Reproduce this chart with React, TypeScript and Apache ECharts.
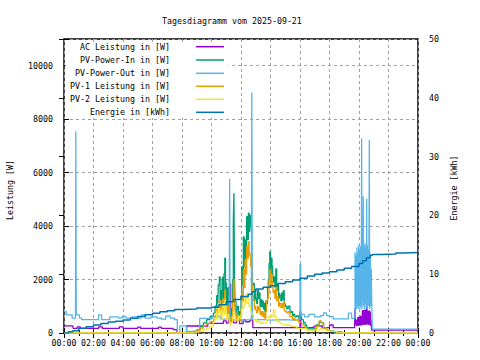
import React, { useEffect, useRef } from "react";
import * as echarts from "echarts";

const titleText = "Tagesdiagramm vom 2025-09-21";
const seriesNames = [
  "AC Leistung in [W]",
  "PV-Power-In in [W]",
  "PV-Power-Out in [W]",
  "PV-1 Leistung in [W]",
  "PV-2 Leistung in [W]",
  "Energie in [kWh]",
];
const seriesColors = ["#9400d3", "#009e73", "#56b4e9", "#e69f00", "#f0e442", "#0072b2"];
const hourTicks = [0, 2, 4, 6, 8, 10, 12, 14, 16, 18, 20, 22, 24];

// [hour, W]
const acLeistung: [number, number][] = [
  [0, 270], [0.6, 270], [0.62, 170], [0.9, 230], [1.1, 170], [2.3, 170], [2.35, 230], [2.6, 170],
  [3.7, 170], [3.75, 230], [4.0, 170], [4.9, 170], [5.0, 220], [5.2, 170], [6.3, 170], [6.4, 220],
  [6.6, 170], [7.0, 170], [7.4, 130], [7.65, 0], [8.3, 0], [8.32, 262], [9.7, 262], [9.75, 360],
  [10.6, 360], [10.8, 450], [11.0, 370], [11.15, 500], [11.25, 1830], [11.3, 450], [11.5, 380],
  [11.7, 480], [11.9, 350], [12.15, 490], [12.3, 420], [12.6, 480], [12.75, 500], [12.8, 200],
  [15.95, 200], [16.0, 800], [16.05, 200], [16.9, 200], [16.95, 260], [17.3, 280], [17.5, 200],
  [18.0, 300], [18.25, 200], [19.7, 200],
  [19.73, 920], [19.76, 300], [19.8, 480], [19.83, 250], [19.86, 500], [19.89, 280], [19.92, 600],
  [19.95, 260], [19.98, 610], [20.01, 300], [20.04, 600], [20.07, 260], [20.1, 650], [20.13, 300],
  [20.16, 620], [20.2, 280], [20.23, 860], [20.26, 320], [20.29, 850], [20.32, 300], [20.35, 870],
  [20.38, 320], [20.41, 860], [20.44, 300], [20.47, 880], [20.5, 320], [20.52, 1600], [20.55, 340],
  [20.58, 840], [20.61, 300], [20.64, 820], [20.67, 320], [20.7, 850], [20.73, 300], [20.76, 800],
  [20.79, 260], [20.82, 500], [20.85, 110], [24, 100],
];

const pvPowerIn: [number, number][] = [
  [0, 0], [8.5, 0], [8.77, 60], [9.0, 120], [9.22, 240], [9.45, 380], [9.67, 500], [9.9, 620],
  [10.12, 740], [10.24, 1000], [10.35, 1400], [10.42, 900], [10.46, 1800], [10.53, 2100],
  [10.58, 1200], [10.62, 1580], [10.67, 900], [10.72, 2000], [10.76, 2100], [10.8, 1300],
  [10.85, 2230], [10.9, 2800], [10.95, 1400], [11.0, 1900], [11.03, 1200], [11.07, 1700],
  [11.1, 1000], [11.14, 1700], [11.2, 700], [11.25, 500], [11.32, 900], [11.37, 700], [11.43, 2000],
  [11.48, 4230], [11.52, 5230], [11.56, 2000], [11.6, 1200], [11.66, 600], [11.71, 900],
  [11.76, 1000], [11.82, 700], [11.88, 800], [11.93, 600], [12.0, 1400], [12.05, 2480],
  [12.1, 1800], [12.16, 3600], [12.22, 2500], [12.27, 3480], [12.33, 2800], [12.38, 4350],
  [12.45, 3500], [12.5, 4480], [12.55, 3800], [12.6, 4400], [12.66, 3980], [12.72, 2300],
  [12.78, 1800], [12.84, 1860], [12.9, 1200], [12.95, 1500], [13.0, 1300], [13.06, 1100],
  [13.12, 1600], [13.18, 1300], [13.24, 1500], [13.29, 1000], [13.35, 1250], [13.4, 1000],
  [13.45, 1200], [13.51, 900], [13.56, 1100], [13.62, 800], [13.68, 1200], [13.74, 1100],
  [13.8, 1700], [13.85, 2000], [13.9, 2600], [13.95, 3040], [14.0, 2000], [14.05, 2800],
  [14.1, 2500], [14.15, 2300], [14.19, 1900], [14.25, 2100], [14.3, 1700], [14.36, 2400],
  [14.42, 1600], [14.48, 1800], [14.55, 1300], [14.6, 1500], [14.64, 1400], [14.7, 1200],
  [14.75, 1500], [14.8, 1250], [14.87, 1580], [14.93, 1100], [15.0, 1000], [15.1, 900],
  [15.2, 1000], [15.32, 750], [15.4, 800], [15.5, 650], [15.55, 700], [15.65, 600], [15.78, 650],
  [15.9, 560], [16.0, 620], [16.1, 500], [16.23, 400], [16.35, 300], [16.45, 200], [16.6, 150],
  [16.9, 150], [17.1, 300], [17.3, 420], [17.45, 380], [17.6, 200], [17.8, 120], [18.0, 80],
  [18.3, 30], [18.6, 0], [24, 0],
];

const pvPowerOut: [number, number][] = [
  [0, 800], [0.15, 680], [0.55, 560], [0.78, 560], [0.8, 7550], [0.83, 680], [1.05, 560],
  [1.2, 500], [2.3, 500], [2.35, 680], [2.55, 500], [3.05, 500], [3.1, 600], [3.7, 560],
  [3.95, 620], [4.2, 560], [4.6, 600], [5.0, 560], [5.25, 680], [5.5, 560], [5.9, 600],
  [6.3, 560], [6.6, 520], [6.9, 640], [7.2, 560], [7.5, 500], [7.68, 0], [7.85, 270], [8.3, 60],
  [9.2, 550], [10.1, 620], [10.6, 520], [11.0, 560], [11.2, 500], [11.23, 5760], [11.26, 500],
  [11.6, 480], [12.0, 500], [12.7, 500], [12.73, 9000], [12.77, 500], [13.5, 480], [14.0, 500],
  [15.0, 480], [15.5, 500], [16.0, 2570], [16.05, 700], [16.3, 600], [16.6, 700], [17.0, 600],
  [17.4, 650], [17.6, 750], [17.8, 650], [18.0, 610], [18.26, 525], [19.28, 740], [19.5, 550],
  [19.73, 3020], [19.76, 900], [19.8, 2900], [19.83, 900], [19.86, 3200], [19.89, 1000],
  [19.92, 3000], [19.95, 900], [19.98, 3300], [20.01, 1100], [20.04, 3100], [20.07, 900],
  [20.1, 3250], [20.13, 1000], [20.16, 3150], [20.18, 7280], [20.2, 900], [20.23, 3300],
  [20.26, 1200], [20.29, 5120], [20.31, 1000], [20.34, 3200], [20.37, 900], [20.4, 3350],
  [20.43, 1100], [20.46, 3200], [20.49, 1000], [20.52, 5020], [20.54, 900], [20.57, 3300],
  [20.6, 1100], [20.63, 3100], [20.66, 1000], [20.7, 7220], [20.72, 900], [20.75, 3000],
  [20.78, 2420], [20.8, 1000], [20.83, 2400], [20.86, 1300], [20.9, 140], [24, 120],
];

const pv1Leistung: [number, number][] = [
  [0, 0], [8.5, 0], [8.77, 40], [9.0, 90], [9.22, 180], [9.45, 280], [9.67, 350], [9.9, 420],
  [10.12, 500], [10.24, 650], [10.35, 900], [10.42, 600], [10.46, 1100], [10.53, 1250],
  [10.58, 800], [10.62, 1000], [10.67, 600], [10.72, 1200], [10.76, 1250], [10.8, 850],
  [10.85, 1300], [10.9, 1600], [10.95, 900], [11.0, 1200], [11.03, 800], [11.07, 1050],
  [11.1, 700], [11.14, 1000], [11.2, 500], [11.25, 400], [11.32, 600], [11.37, 500], [11.43, 1200],
  [11.48, 1980], [11.52, 2000], [11.56, 1100], [11.6, 800], [11.66, 450], [11.71, 600],
  [11.76, 650], [11.82, 500], [11.88, 550], [11.93, 450], [12.0, 900], [12.05, 1480], [12.1, 1200],
  [12.16, 2360], [12.22, 1700], [12.27, 2730], [12.33, 2200], [12.38, 3230], [12.45, 2800],
  [12.5, 3415], [12.55, 3000], [12.6, 2900], [12.66, 2500], [12.72, 1800], [12.78, 1400],
  [12.84, 1230], [12.9, 900], [12.95, 1000], [13.0, 850], [13.06, 750], [13.12, 1000],
  [13.18, 850], [13.24, 950], [13.29, 700], [13.35, 800], [13.4, 650], [13.45, 800], [13.51, 600],
  [13.56, 750], [13.62, 550], [13.68, 800], [13.74, 1200], [13.8, 1300], [13.85, 1500],
  [13.9, 2000], [13.95, 2360], [14.0, 1700], [14.05, 2200], [14.1, 1900], [14.15, 1750],
  [14.19, 1500], [14.25, 1600], [14.3, 1300], [14.36, 1750], [14.42, 1200], [14.48, 1350],
  [14.55, 1000], [14.6, 1150], [14.64, 1100], [14.7, 950], [14.75, 1100], [14.8, 950],
  [14.87, 1150], [14.93, 850], [15.0, 800], [15.1, 750], [15.2, 800], [15.32, 600], [15.4, 620],
  [15.5, 500], [15.55, 550], [15.65, 480], [15.78, 500], [15.9, 420], [16.0, 410], [16.1, 350],
  [16.23, 280], [16.35, 200], [16.45, 130], [16.6, 110], [16.9, 110], [17.1, 250], [17.3, 450],
  [17.45, 380], [17.6, 180], [17.8, 100], [18.0, 60], [18.3, 50], [18.8, 50], [18.85, 0], [24, 0],
];

const pv2Leistung: [number, number][] = [
  [0, 0], [8.6, 0], [9.0, 40], [9.22, 70], [9.45, 120], [9.67, 180], [9.9, 250], [10.12, 400],
  [10.24, 550], [10.35, 800], [10.42, 500], [10.46, 1090], [10.53, 800], [10.58, 700],
  [10.62, 850], [10.67, 500], [10.72, 900], [10.76, 950], [10.8, 1100], [10.85, 700],
  [10.9, 1230], [10.95, 1000], [11.0, 600], [11.03, 500], [11.07, 700], [11.14, 600], [11.2, 350],
  [11.25, 300], [11.32, 400], [11.43, 600], [11.48, 800], [11.52, 700], [11.6, 500], [11.71, 480],
  [11.82, 600], [11.93, 550], [12.0, 700], [12.05, 900], [12.16, 985], [12.22, 1200],
  [12.27, 1360], [12.33, 1100], [12.38, 1490], [12.45, 1300], [12.5, 1110], [12.55, 1000],
  [12.61, 985], [12.66, 800], [12.72, 700], [12.84, 470], [12.95, 500], [13.06, 420], [13.2, 450],
  [13.29, 360], [13.4, 400], [13.51, 360], [13.6, 380], [13.74, 500], [13.85, 600], [13.97, 680],
  [14.05, 620], [14.19, 860], [14.3, 600], [14.42, 420], [14.55, 450], [14.64, 360], [14.8, 330],
  [15.0, 300], [15.2, 280], [15.4, 250], [15.55, 230], [15.78, 170], [16.0, 170], [16.2, 150],
  [16.45, 110], [16.9, 110], [17.2, 120], [17.36, 170], [17.5, 120], [17.81, 110], [18.0, 60],
  [18.27, 50], [18.5, 0], [24, 0],
];

// [hour, kWh]
const energie: [number, number][] = [
  [0, 0], [0.3, 0.2], [0.6, 0.4], [1, 0.8], [1.5, 1.05], [2, 1.35], [2.5, 1.6], [3, 1.85],
  [3.5, 2.0], [4, 2.2], [4.5, 2.5], [5, 2.8], [5.5, 3.1], [6, 3.35], [6.5, 3.6], [7, 3.8],
  [7.5, 4.0], [8, 4.1], [9, 4.25], [10, 4.4], [10.5, 4.8], [11, 5.3], [11.5, 5.7], [12, 6.2],
  [12.5, 6.6], [12.75, 7.0], [13, 7.5], [13.5, 7.8], [14, 8.05], [14.5, 8.4], [15, 8.7],
  [15.5, 9.0], [16, 9.3], [16.5, 9.7], [17, 10.0], [17.5, 10.2], [18, 10.4], [18.5, 10.7],
  [19, 11.0], [19.5, 11.3], [20, 11.8], [20.25, 12.3], [20.5, 12.8], [20.75, 13.2], [20.9, 13.35],
  [21.5, 13.4], [22, 13.45], [22.5, 13.6], [23, 13.7], [24, 13.75],
];

const leftTicks = [0, 2000, 4000, 6000, 8000, 10000];
const rightTicks = [0, 10, 20, 30, 40, 50];

const FONT = "DejaVu Sans Mono";
const FS = 8.3;

export default function App() {
  const ref = useRef<HTMLDivElement>(null);
  useEffect(() => {
    if (!ref.current) return;
    const chart = echarts.init(ref.current, undefined, { renderer: "svg" });
    const datas = [acLeistung, pvPowerIn, pvPowerOut, pv1Leistung, pv2Leistung, energie];
    const legendRowsY = [46.7, 60, 73.3, 86.3, 99.3, 112.3];
    const legendGraphics: any[] = [
      {
        type: "rect",
        shape: { x: 65.5, y: 44.5, width: 163, height: 73.5 },
        style: { fill: "#fff" },
        z: 1,
      },
    ];
    seriesNames.forEach((n, i) => {
      legendGraphics.push({
        type: "text",
        x: 170,
        y: legendRowsY[i],
        style: { text: n, textAlign: "right", textVerticalAlign: "middle", font: `${FS}px '${FONT}'`, fill: "#000" },
        z: 100,
      });
      legendGraphics.push({
        type: "line",
        shape: { x1: 196, y1: legendRowsY[i], x2: 224, y2: legendRowsY[i] },
        style: { stroke: seriesColors[i], lineWidth: 1.5 },
        z: 100,
      });
    });
    const labelStyle = { color: "#000", fontFamily: FONT, fontSize: FS };
    const fmtHour = (v: number) => (hourTicks.includes(v) ? String(v % 24).padStart(2, "0") + ":00" : "");
    chart.setOption({
      animation: false,
      backgroundColor: "#fff",
      title: {
        text: titleText,
        left: 157,
        top: 12,
        textStyle: { fontFamily: FONT, fontSize: FS, fontWeight: "normal", color: "#000" },
      },
      grid: { left: 64, right: 62, top: 39, bottom: 27, show: true, borderColor: "#000", borderWidth: 1.5, backgroundColor: "transparent" },
      xAxis: [
        {
          type: "value", min: 0, max: 24, interval: 2, position: "bottom",
          axisLine: { show: false },
          axisTick: { show: true, inside: true, length: 5, lineStyle: { color: "#000" } },
          minorTick: { show: true, splitNumber: 2, length: 3, lineStyle: { color: "#000" } },
          axisLabel: { ...labelStyle, margin: 6, formatter: fmtHour },
          splitLine: { show: true, lineStyle: { color: "#a0a0a0", type: [3, 3], width: 1 } },
        },
        {
          type: "value", min: 0, max: 24, interval: 2, position: "top",
          axisLine: { show: false },
          axisTick: { show: true, inside: true, length: 5, lineStyle: { color: "#000" } },
          minorTick: { show: true, splitNumber: 2, length: 3, lineStyle: { color: "#000" } },
          axisLabel: { show: false },
          splitLine: { show: false },
        },
      ],
      yAxis: [
        {
          type: "value", min: 0, max: 11000, interval: 2000, position: "left",
          axisLine: { show: false },
          axisTick: { show: true, inside: true, length: 5, lineStyle: { color: "#000" } },
          axisLabel: { ...labelStyle, margin: 11, formatter: (v: number) => (leftTicks.includes(v) ? String(v) : "") },
          splitLine: { show: true, lineStyle: { color: "#a0a0a0", type: [3, 3], width: 1 } },
        },
        {
          type: "value", min: 0, max: 50, interval: 10, position: "right",
          axisLine: { show: false },
          axisTick: { show: true, inside: true, length: 5, lineStyle: { color: "#000" } },
          axisLabel: { ...labelStyle, margin: 11, formatter: (v: number) => (rightTicks.includes(v) ? String(v) : "") },
          splitLine: { show: false },
        },
      ],
      graphic: [
        {
          type: "text", x: 10, y: 190, rotation: Math.PI / 2,
          style: { text: "Leistung [W]", textAlign: "center", textVerticalAlign: "middle", font: `${FS}px '${FONT}'`, fill: "#000" },
        },
        {
          type: "text", x: 454, y: 188, rotation: Math.PI / 2,
          style: { text: "Energie [kWh]", textAlign: "center", textVerticalAlign: "middle", font: `${FS}px '${FONT}'`, fill: "#000" },
        },
        ...legendGraphics,
      ],
      series: datas.map((d, i) => ({
        name: seriesNames[i],
        type: "line",
        step: "end",
        xAxisIndex: 0,
        yAxisIndex: i === 5 ? 1 : 0,
        data: d,
        showSymbol: false,
        symbol: "none",
        lineStyle: { color: seriesColors[i], width: i === 5 ? 1.5 : 1.3 },
        itemStyle: { color: seriesColors[i] },
        z: 2 + i,
      })),
    });
    return () => chart.dispose();
  }, []);
  return <div ref={ref} style={{ position: "fixed", left: 0, top: 0, width: 480, height: 360 }} />;
}
